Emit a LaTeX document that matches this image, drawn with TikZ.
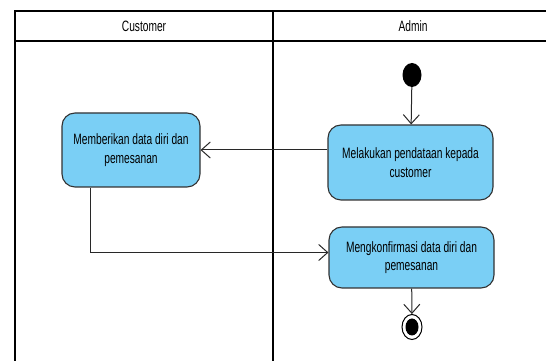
\documentclass[tikz,border=0pt]{standalone}
\usepackage{fontspec}
\setmainfont{Liberation Sans}[FakeStretch=0.68]
\usetikzlibrary{arrows.meta, positioning, shapes.geometric}
\definecolor{actblue}{RGB}{122, 207, 245}
\definecolor{actborder}{RGB}{50, 50, 50}
\definecolor{flowgray}{RGB}{40, 40, 40}
\tikzset{
    lane/.style = {draw=black, line width=2pt},
    lanetitle/.style = {font=\fontsize{15}{18}\selectfont, text=black, inner sep=0pt},
    activity/.style = {rectangle, draw=actborder, fill=actblue, line width=1.1pt, rounded corners=13pt, align=center, inner sep=0pt, font=\fontsize{15}{18.3}\selectfont, text=black},
    startdot/.style = {ellipse, fill=black, minimum width=19pt, minimum height=24pt, inner sep=0pt},
    enddot/.style = {ellipse, draw=black, fill=white, line width=1pt, minimum width=20pt, minimum height=25pt, inner sep=0pt,
        path picture={\fill[black] (path picture bounding box.center) ellipse (6.5pt and 8.5pt);}},
    flow/.style = {draw=flowgray, line width=1pt, -{Straight Barb[length=9pt, width=16pt, line width=1pt]}}
}

\begin{document}
\begin{tikzpicture}[x=1pt, y=1pt]
\path[use as bounding box, clip] (0,0) rectangle (546,361);

% swimlane frame and headers
\draw[lane] (15,-5) -- (15,350) -- (553,350) -- (553,-5);
\draw[lane] (273,-5) -- (273,350);
\draw[lane, line width=2.6pt] (15,320) -- (553,320);
\node (customer) [lanetitle] at (144,335) {Customer};
\node (admin) [lanetitle] at (413,335) {Admin};

% activities
\node (start) [startdot] at (412,286) {};
\node (pendataan) [activity, minimum width=165pt, minimum height=75pt] at (410.5,198.5) {Melakukan pendataan kepada\\ customer};
\node (datadiri) [activity, minimum width=138pt, minimum height=74pt] at (131,211) {Memberikan data diri dan\\ pemesanan};
\node (konfirmasi) [activity, minimum width=165pt, minimum height=61pt] at (411.5,103.5) {Mengkonfirmasi data diri dan\\ pemesanan};
\node (finish) [enddot] at (412,34) {};

% control flows
\draw [flow] (start) -- (pendataan);
\draw [flow] (pendataan.west |- datadiri.east) -- (datadiri.east);
\draw [flow] ([xshift=-41pt]datadiri.south) |- ([yshift=5pt]konfirmasi.west);
\draw [flow] (konfirmasi) -- (finish);
\end{tikzpicture}
\end{document}
